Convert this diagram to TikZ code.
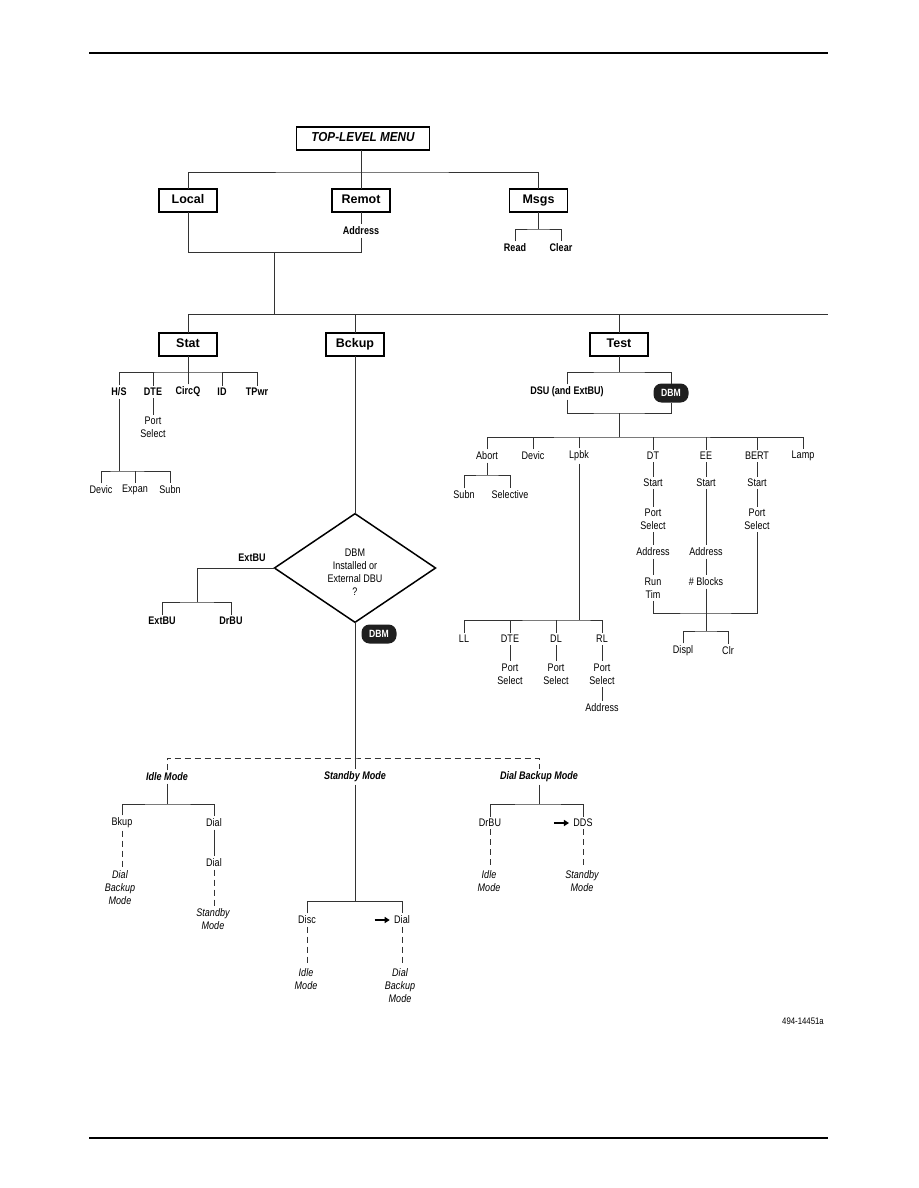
\documentclass[tikz,border=0pt]{standalone}
\usepackage{fontspec}
\setmainfont{Liberation Sans}
\newfontfamily\nf{Liberation Sans}[FakeStretch=0.82]
\newfontfamily\mf{Liberation Sans}[FakeStretch=0.9]
\usetikzlibrary{shapes.geometric,arrows.meta}
\begin{document}
\begin{tikzpicture}[x=1pt,y=-1pt,
  every node/.style={inner sep=2.5pt,outer sep=0pt},
  ln/.style={draw=black!80,line width=0.95pt},
  dsh/.style={draw=black!80,line width=0.95pt,dash pattern=on 6pt off 4pt},
  menubox/.style={draw=black,line width=1.6pt,minimum width=58pt,minimum height=23pt,text height=9pt,text depth=2.5pt,font=\bfseries\fontsize{12.5}{14}\selectfont},
  lb/.style={font=\nf\bfseries\fontsize{11}{13}\selectfont,align=center},
  lr/.style={font=\nf\fontsize{11}{13}\selectfont,align=center},
  lbi/.style={font=\nf\bfseries\itshape\fontsize{11}{13}\selectfont,align=center},
  li/.style={font=\nf\itshape\fontsize{11}{13}\selectfont,align=center},
  pill/.style={fill=black!88,text=white,rounded corners=8pt,minimum width=35pt,minimum height=19pt,inner sep=1pt,font=\nf\bfseries\fontsize{10.5}{12}\selectfont},
  fatarrow/.style={line width=1.4pt,-{Triangle[length=5pt,width=6pt]}}
]
\useasboundingbox (0,0) rectangle (918,1188);
% page rules
\draw[line width=1.5pt] (89,53) -- (828,53);
\draw[line width=1.5pt] (89,1138) -- (828,1138);

% ---------- top level ----------
\node[menubox,minimum width=133pt,font=\mf\bfseries\itshape\fontsize{13}{15}\selectfont] (top) at (363,138.5) {TOP-LEVEL MENU};
\node[menubox] (local) at (188,200.5) {Local};
\node[menubox] (remot) at (361,200.5) {Remot};
\node[menubox] (msgs) at (538.5,200.5) {Msgs};
\coordinate (jt) at (361,172);
\draw[ln] (remot.north) -- (top.south -| remot.north);
\draw[ln] (local.north) |- (jt) -| (msgs.north);

\node[lb] (addr1) at (361,231) {Address};
\draw[ln] (remot.south) -- (addr1.north);
\coordinate (jl) at (274,252);
\draw[ln] (addr1.south) |- (jl);
\draw[ln] (local.south) |- (jl);

\node[lb] (read) at (515,248) {Read};
\node[lb] (clear) at (561,248) {Clear};
\coordinate (jmsg) at (538.5,229);
\draw[ln] (msgs.south) -- (jmsg);
\draw[ln] (read.north) |- (jmsg) -| (clear.north);

% ---------- main bar ----------
\coordinate (jm) at (274,314);
\coordinate (mright) at (828,314);
\node[menubox] (stat) at (188,344.5) {Stat};
\node[menubox] (bckup) at (355,344.5) {Bckup};
\node[menubox] (test) at (619,344.5) {Test};
\draw[ln] (jl) -- (jm);
\draw[ln] (stat.north) |- (mright);
\draw[ln] (bckup.north) -- (bckup.north |- jm);
\draw[ln] (test.north) -- (test.north |- jm);

% ---------- Stat ----------
\coordinate (jstat) at (188,372);
\node[lb] (hs) at (119,392) {H/S};
\node[lb] (dte1) at (153,392) {DTE};
\node[lb] (circq) at (188,392) {CircQ};
\node[lb] (id) at (222,392) {ID};
\node[lb] (tpwr) at (257,392) {TPwr};
\draw[ln] (stat.south) -- (jstat);
\draw[ln] (hs.north) |- (jstat) -| (tpwr.north);
\foreach \n in {dte1,circq,id} \draw[ln] (\n.north) -- (\n.north |- jstat);
\node[lr] (ps1) at (153,427.5) {Port\\Select};
\draw[ln] (dte1.south) -- (ps1.north);
\coordinate (jhs) at (119,471);
\node[lr] (devic1) at (101,490) {Devic};
\node[lr] (expan) at (135,490) {Expan};
\node[lr] (subn1) at (170,490) {Subn};
\draw[ln] (hs.south) -- (jhs);
\draw[ln] (devic1.north) |- (jhs) -| (subn1.north);
\draw[ln] (expan.north) -- (expan.north |- jhs);

% ---------- Bckup ----------
\node[diamond,draw=black,line width=1.5pt,minimum width=161pt,minimum height=90pt,inner sep=0pt,lr] (dia) at (355,568) {\\[2pt]DBM\\Installed or\\External DBU\\?};
\draw[ln] (bckup.south) -- (dia.north);
\node[lb] (extlbl) at (252,558) {ExtBU};
\coordinate (jext) at (197,602);
\draw[ln] (dia.west) -| (jext);
\node[lb] (extbu) at (162,621) {ExtBU};
\node[lb] (drbu1) at (231,621) {DrBU};
\draw[ln] (extbu.north) |- (jext) -| (drbu1.north);
\node[pill] (dbmp2) at (379,634) {DBM};

\coordinate (jd) at (355,758);
\node[lbi] (idle) at (167,777) {Idle Mode};
\node[lbi] (standby) at (355,777) {Standby Mode};
\node[lbi] (dialbm) at (539,777) {Dial Backup Mode};
\draw[ln] (dia.south) -- (standby.north);
\draw[dsh] (idle.north) |- (jd) -| (dialbm.north);

% Idle Mode
\coordinate (jidle) at (167,804);
\node[lr] (bkup) at (122,823) {Bkup};
\node[lr] (dial1) at (214,823) {Dial};
\draw[ln] (idle.south) -- (jidle);
\draw[ln] (bkup.north) |- (jidle) -| (dial1.north);
\node[li] (dbm1) at (120,887.5) {Dial\\Backup\\Mode};
\draw[dsh] (bkup.south) -- (bkup.south |- dbm1.north);
\node[lr] (dial2) at (214,863) {Dial};
\draw[ln] (dial1.south) -- (dial2.north);
\node[li] (sbm1) at (213,919) {Standby\\Mode};
\draw[dsh] (dial2.south) -- (dial2.south |- sbm1.north);

% Standby Mode
\coordinate (jsb) at (355,901);
\node[lr] (disc) at (307,920) {Disc};
\node[lr] (dial3) at (402,920) {Dial};
\draw[ln] (standby.south) -- (jsb);
\draw[ln] (disc.north) |- (jsb) -| (dial3.north);
\draw[fatarrow] ([xshift=-17pt]dial3.west) -- ([xshift=-2pt]dial3.west);
\node[li] (im1) at (306,979) {Idle\\Mode};
\draw[dsh] (disc.south) -- (disc.south |- im1.north);
\node[li] (dbm2) at (400,985.5) {Dial\\Backup\\Mode};
\draw[dsh] (dial3.south) -- (dial3.south |- dbm2.north);

% Dial Backup Mode
\coordinate (jdb) at (539,804);
\node[lr] (drbu2) at (490,823) {DrBU};
\node[lr] (dds) at (583,823) {DDS};
\draw[ln] (dialbm.south) -- (jdb);
\draw[ln] (drbu2.north) |- (jdb) -| (dds.north);
\draw[fatarrow] ([xshift=-17pt]dds.west) -- ([xshift=-2pt]dds.west);
\node[li] (im2) at (489,881) {Idle\\Mode};
\draw[dsh] (drbu2.south) -- (drbu2.south |- im2.north);
\node[li] (sbm2) at (582,881) {Standby\\Mode};
\draw[dsh] (dds.south) -- (dds.south |- sbm2.north);

% ---------- Test ----------
\coordinate (jtest) at (619,372);
\coordinate (jb) at (619,413);
\coordinate (jc) at (619,437);
\node[lb] (dsu) at (567,392) {DSU (and ExtBU)};
\node[pill] (dbmp1) at (671,393) {DBM};
\draw[ln] (test.south) -- (jtest);
\draw[ln] (dsu.north) |- (jtest) -| (dbmp1.north);
\draw[ln] (dsu.south) |- (jb) -| (dbmp1.south);
\draw[ln] (jb) -- (jc);

\node[lr] (abort) at (487,456) {Abort};
\node[lr] (devic2) at (533,456) {Devic};
\node[lr] (lpbk) at (579,456) {Lpbk};
\node[lr] (dt) at (653,456) {DT};
\node[lr] (ee) at (706,456) {EE};
\node[lr] (bert) at (757,456) {BERT};
\node[lr] (lamp) at (803,456) {Lamp};
\draw[ln] (abort.north) |- (jc) -| (lamp.north);
\foreach \n in {devic2,lpbk,dt,ee,bert} \draw[ln] (\n.north) -- (\n.north |- jc);

% Abort
\coordinate (ja) at (487,475);
\node[lr] (subn2) at (464,495) {Subn};
\node[lr] (selective) at (510,495) {Selective};
\draw[ln] (abort.south) -- (ja);
\draw[ln] (subn2.north) |- (ja) -| (selective.north);

% Lpbk
\coordinate (jlp) at (579,620);
\node[lr] (ll) at (464,639) {LL};
\node[lr] (dte2) at (510,639) {DTE};
\node[lr] (dl) at (556,639) {DL};
\node[lr] (rl) at (602,639) {RL};
\draw[ln] (lpbk.south) -- (jlp);
\draw[ln] (ll.north) |- (jlp) -| (rl.north);
\draw[ln] (dte2.north) -- (dte2.north |- jlp);
\draw[ln] (dl.north) -- (dl.north |- jlp);
\node[lr] (ps2) at (510,674) {Port\\Select};
\node[lr] (ps3) at (556,674) {Port\\Select};
\node[lr] (ps4) at (602,674) {Port\\Select};
\draw[ln] (dte2.south) -- (ps2.north);
\draw[ln] (dl.south) -- (ps3.north);
\draw[ln] (rl.south) -- (ps4.north);
\node[lr] (addr4) at (602,708) {Address};
\draw[ln] (ps4.south) -- (addr4.north);

% DT
\node[lr] (start1) at (653,483) {Start};
\node[lr] (ps5) at (653,519.5) {Port\\Select};
\node[lr] (addr2) at (653,552) {Address};
\node[lr] (runtim) at (653,588) {Run\\Tim};
\draw[ln] (dt.south) -- (start1.north);
\draw[ln] (start1.south) -- (ps5.north);
\draw[ln] (ps5.south) -- (addr2.north);
\draw[ln] (addr2.south) -- (runtim.north);

% EE
\node[lr] (start2) at (706,483) {Start};
\node[lr] (addr3) at (706,552) {Address};
\node[lr] (blocks) at (706,582) {\# Blocks};
\draw[ln] (ee.south) -- (start2.north);
\draw[ln] (start2.south) -- (addr3.north);
\draw[ln] (addr3.south) -- (blocks.north);

% BERT
\node[lr] (start3) at (757,483) {Start};
\node[lr] (ps6) at (757,519.5) {Port\\Select};
\draw[ln] (bert.south) -- (start3.north);
\draw[ln] (start3.south) -- (ps6.north);

\coordinate (jee) at (706,613);
\coordinate (jdc) at (706,631);
\draw[ln] (runtim.south) |- (jee) -| (ps6.south);
\draw[ln] (blocks.south) -- (jdc);
\node[lr] (displ) at (683,651) {Displ};
\node[lr] (clr) at (728,651) {Clr};
\draw[ln] (displ.north) |- (jdc) -| (clr.north);

% figure number
\node[lr,font=\nf\fontsize{9.5}{11}\selectfont] (fig) at (803,1021) {494-14451a};
\end{tikzpicture}
\end{document}
